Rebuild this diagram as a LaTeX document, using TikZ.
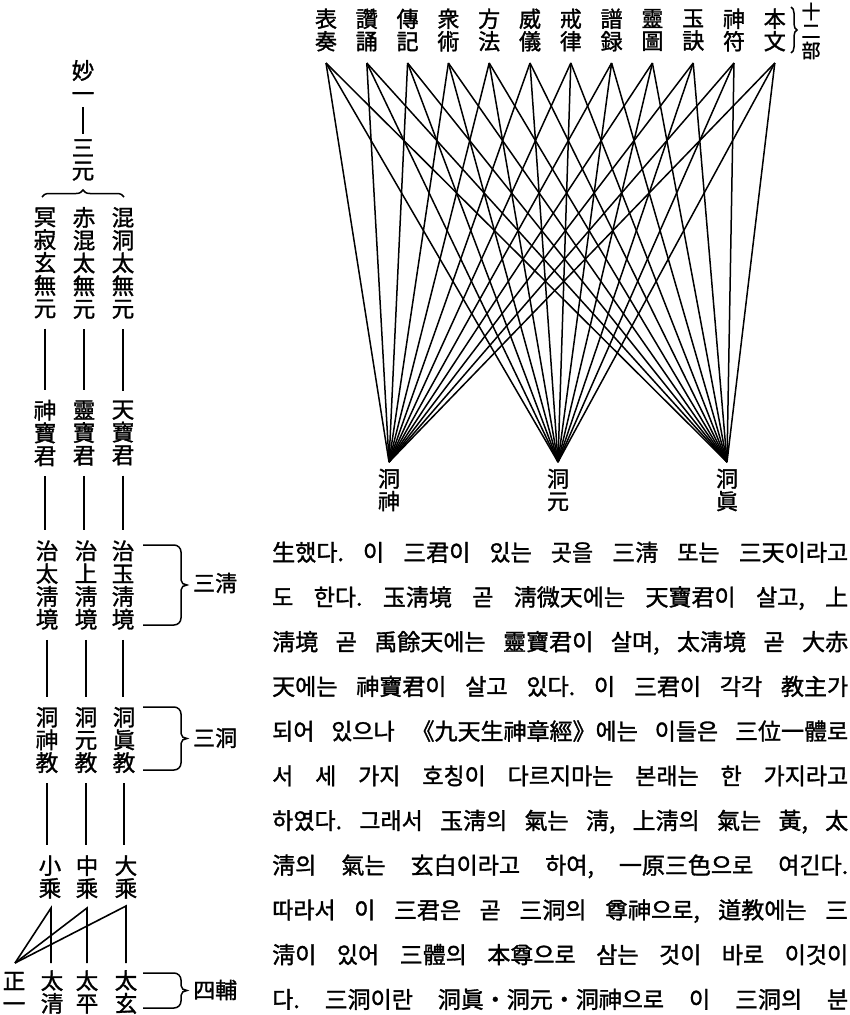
\documentclass[tikz,border=0pt]{standalone}
\usepackage{fontspec}
\newfontfamily\kr{Noto Sans CJK KR}[FakeBold=1.4]
\usetikzlibrary{decorations.pathreplacing}
\newcommand\mybrace[2]{%
  \draw[gbrace] (143,#1) -- (174,#1) to[out=0,in=90] (181,{#1+7})
    -- (181,{(#1+#2)/2-5}) to[out=-90,in=180] (187,{(#1+#2)/2})
    to[out=180,in=90] (181,{(#1+#2)/2+5}) -- (181,{#2-7})
    to[out=-90,in=0] (174,#2) -- (143,#2);}
\begin{document}
\frenchspacing
\begin{tikzpicture}[x=1pt,y=-1pt,
  vt/.style={font={\kr\fontsize{22.5}{22.8}\selectfont}, align=center, inner sep=0pt},
  lab/.style={font={\kr\fontsize{22}{22.5}\selectfont}, align=center, inner sep=0pt},
  hl/.style={font={\kr\fontsize{22}{22}\selectfont}, inner sep=0pt},
  para/.style={font={\kr\fontsize{23}{24}\selectfont}, anchor=base west, inner sep=0pt},
  conn/.style={line width=1.6pt},
  vl/.style={conn, shorten <=10pt, shorten >=10pt},
  fan/.style={line width=1.5pt},
  gbrace/.style={line width=1.5pt}]
\useasboundingbox (0,0) rectangle (850,1015);

% ---------- fan diagram ----------
\foreach \a/\b [count=\n] in {表/奏,讚/誦,傳/記,衆/術,方/法,威/儀,戒/律,譜/録,靈/圖,玉/訣,神/符,本/文}{
  \node[lab] (top\n) at ({326+40.8*(\n-1)},30) {\a\\\b};
  \coordinate (t\n) at ({326+40.8*(\n-1)},63);
}
\draw[gbrace, decorate, decoration={brace, amplitude=6pt}] (791,7) -- (791,53);
\node[font={\kr\fontsize{19}{19.5}\selectfont}, align=center, inner sep=0pt] (shierbu) at (811,31) {十\\二\\部};

\node[lab] (dshen) at (389,490) {洞\\神};
\node[lab] (dyuan) at (558,490) {洞\\元};
\node[lab] (dzhen) at (727,490) {洞\\眞};
\coordinate (b1) at (389,462);
\coordinate (b2) at (558,462);
\coordinate (b3) at (727,462);
\foreach \n in {1,...,12}{
  \foreach \m in {1,2,3}{
    \draw[fan] (t\n) -- (b\m);
  }
}

% ---------- left genealogy ----------
\node[vt] (miao) at (83,81) {妙\\一};
\node[vt] (sy) at (83,160) {三\\元};
\draw[conn, shorten <=5pt, shorten >=5pt] (miao.south) -- (miao.south |- sy.north);
\draw[gbrace, decorate, decoration={brace, amplitude=7pt}] (42,197) -- (124,197);

\node[vt] (a1) at (45,263) {冥\\寂\\玄\\無\\元};
\node[vt] (a2) at (84,263) {赤\\混\\太\\無\\元};
\node[vt] (a3) at (123,263) {混\\洞\\太\\無\\元};

\node[vt] (b1n) at (45,433) {神\\寶\\君};
\node[vt] (b2n) at (84,433) {靈\\寶\\君};
\node[vt] (b3n) at (123,433) {天\\寶\\君};

\node[vt] (c1) at (47,585) {治\\太\\淸\\境};
\node[vt] (c2) at (86,585) {治\\上\\淸\\境};
\node[vt] (c3) at (123,585) {治\\玉\\淸\\境};

\node[vt] (d1) at (47,740) {洞\\神\\教};
\node[vt] (d2) at (86,740) {洞\\元\\教};
\node[vt] (d3) at (124,740) {洞\\眞\\教};

\node[vt] (e1) at (50,877) {小\\乘};
\node[vt] (e2) at (87,877) {中\\乘};
\node[vt] (e3) at (126,877) {大\\乘};

\node[vt] (f0) at (14,992) {正\\一};
\node[vt] (f1) at (52,992) {太\\清};
\node[vt] (f2) at (87,992) {太\\平};
\node[vt] (f3) at (126,992) {太\\玄};

\foreach \u/\v in {a1/b1n,a2/b2n,a3/b3n,b1n/c1,b2n/c2,b3n/c3,c1/d1,c2/d2,c3/d3,d1/e1,d2/e2,d3/e3}{
  \draw[vl] (\u.south) -- (\u.south |- \v.north);
}

\coordinate (z) at (15,963);
\coordinate (s1) at (51,908);
\coordinate (s2) at (87,908);
\coordinate (s3) at (126,906);
\draw[conn, line join=miter] (z) -- (s1) -- (s1 |- z);
\draw[conn, line join=miter] (z) -- (s2) -- (s2 |- z);
\draw[conn, line join=miter] (z) -- (s3) -- (s3 |- z);

\mybrace{545}{625}
\node[hl, anchor=west] (sanqing) at (193,583) {三淸};
\mybrace{707}{770}
\node[hl, anchor=west] (sandong) at (193,738) {三洞};
\mybrace{973}{1008}
\node[hl, anchor=west] (sifu) at (193,990) {四輔};

% ---------- paragraph ----------
\foreach \t [count=\k] in {%
  {生했다. 이 三君이 있는 곳을 三淸 또는 三天이라고},
  {도 한다. 玉淸境 곧 淸微天에는 天寶君이 살고, 上},
  {淸境 곧 禹餘天에는 靈寶君이 살며, 太淸境 곧 大赤},
  {天에는 神寶君이 살고 있다. 이 三君이 각각 教主가},
  {되어 있으나 《九天生神章經》에는 이들은 三位一體로},
  {서 세 가지 호칭이 다르지마는 본래는 한 가지라고},
  {하였다. 그래서 玉淸의 氣는 淸, 上淸의 氣는 黃, 太},
  {淸의 氣는 玄白이라고 하여, 一原三色으로 여긴다.},
  {따라서 이 三君은 곧 三洞의 尊神으로, 道教에는 三},
  {淸이 있어 三體의 本尊으로 삼는 것이 바로 이것이},
  {다. 三洞이란 洞眞・洞元・洞神으로 이 三洞의 분}}{
  \node[para] (p\k) at (272,{561+44.7*(\k-1)}) {\makebox[576pt][s]{\t}};
}
\end{tikzpicture}
\end{document}
